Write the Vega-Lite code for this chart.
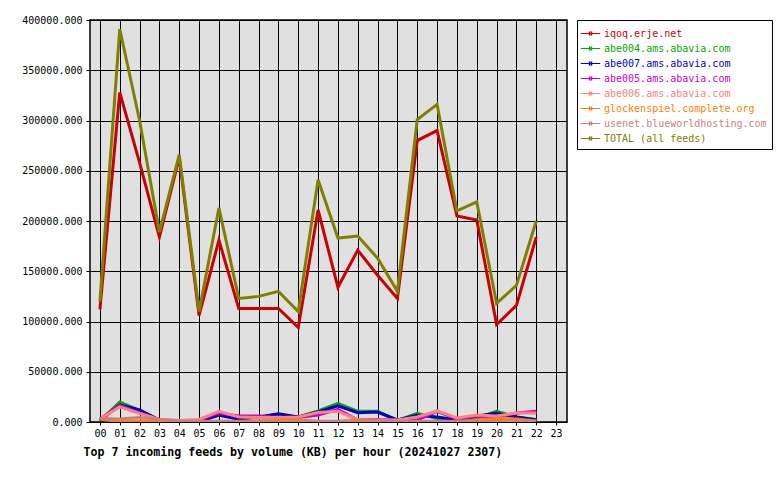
{
  "$schema": "https://vega.github.io/schema/vega-lite/v6.json",
  "width": 477,
  "height": 402,
  "autosize": {"type": "none"},
  "padding": {"left": 90, "top": 20, "right": 213, "bottom": 58},
  "background": "white",
  "config": {
    "font": "DejaVu Sans Mono",
    "view": {"fill": "#e0e0e0", "stroke": "black", "strokeWidth": 1.5},
    "axis": {
      "labelFont": "DejaVu Sans Mono",
      "labelFontSize": 10,
      "labelColor": "black",
      "grid": true,
      "gridColor": "black",
      "gridOpacity": 1,
      "gridWidth": 1,
      "domain": false,
      "tickColor": "black",
      "tickWidth": 1
    }
  },
  "data": {
    "values": [
      {"h":0,"feed":"iqoq.erje.net","kb":112000},{"h":1,"feed":"iqoq.erje.net","kb":328000},{"h":2,"feed":"iqoq.erje.net","kb":258000},{"h":3,"feed":"iqoq.erje.net","kb":184000},{"h":4,"feed":"iqoq.erje.net","kb":263000},{"h":5,"feed":"iqoq.erje.net","kb":106000},{"h":6,"feed":"iqoq.erje.net","kb":181000},{"h":7,"feed":"iqoq.erje.net","kb":113000},{"h":8,"feed":"iqoq.erje.net","kb":113000},{"h":9,"feed":"iqoq.erje.net","kb":113000},{"h":10,"feed":"iqoq.erje.net","kb":94000},{"h":11,"feed":"iqoq.erje.net","kb":211000},{"h":12,"feed":"iqoq.erje.net","kb":134000},{"h":13,"feed":"iqoq.erje.net","kb":171000},{"h":14,"feed":"iqoq.erje.net","kb":146000},{"h":15,"feed":"iqoq.erje.net","kb":123000},{"h":16,"feed":"iqoq.erje.net","kb":280000},{"h":17,"feed":"iqoq.erje.net","kb":290000},{"h":18,"feed":"iqoq.erje.net","kb":205000},{"h":19,"feed":"iqoq.erje.net","kb":201000},{"h":20,"feed":"iqoq.erje.net","kb":97000},{"h":21,"feed":"iqoq.erje.net","kb":116000},{"h":22,"feed":"iqoq.erje.net","kb":184000},
      {"h":0,"feed":"abe004.ams.abavia.com","kb":1000},{"h":1,"feed":"abe004.ams.abavia.com","kb":20000},{"h":2,"feed":"abe004.ams.abavia.com","kb":11500},{"h":3,"feed":"abe004.ams.abavia.com","kb":2000},{"h":4,"feed":"abe004.ams.abavia.com","kb":1500},{"h":5,"feed":"abe004.ams.abavia.com","kb":500},{"h":6,"feed":"abe004.ams.abavia.com","kb":7000},{"h":7,"feed":"abe004.ams.abavia.com","kb":3000},{"h":8,"feed":"abe004.ams.abavia.com","kb":5000},{"h":9,"feed":"abe004.ams.abavia.com","kb":7000},{"h":10,"feed":"abe004.ams.abavia.com","kb":5000},{"h":11,"feed":"abe004.ams.abavia.com","kb":11000},{"h":12,"feed":"abe004.ams.abavia.com","kb":18600},{"h":13,"feed":"abe004.ams.abavia.com","kb":10600},{"h":14,"feed":"abe004.ams.abavia.com","kb":10600},{"h":15,"feed":"abe004.ams.abavia.com","kb":1500},{"h":16,"feed":"abe004.ams.abavia.com","kb":8600},{"h":17,"feed":"abe004.ams.abavia.com","kb":3500},{"h":18,"feed":"abe004.ams.abavia.com","kb":1500},{"h":19,"feed":"abe004.ams.abavia.com","kb":4000},{"h":20,"feed":"abe004.ams.abavia.com","kb":10600},{"h":21,"feed":"abe004.ams.abavia.com","kb":5000},{"h":22,"feed":"abe004.ams.abavia.com","kb":2500},
      {"h":0,"feed":"abe007.ams.abavia.com","kb":1500},{"h":1,"feed":"abe007.ams.abavia.com","kb":17000},{"h":2,"feed":"abe007.ams.abavia.com","kb":12000},{"h":3,"feed":"abe007.ams.abavia.com","kb":2000},{"h":4,"feed":"abe007.ams.abavia.com","kb":500},{"h":5,"feed":"abe007.ams.abavia.com","kb":500},{"h":6,"feed":"abe007.ams.abavia.com","kb":7000},{"h":7,"feed":"abe007.ams.abavia.com","kb":2700},{"h":8,"feed":"abe007.ams.abavia.com","kb":5000},{"h":9,"feed":"abe007.ams.abavia.com","kb":8300},{"h":10,"feed":"abe007.ams.abavia.com","kb":5000},{"h":11,"feed":"abe007.ams.abavia.com","kb":10000},{"h":12,"feed":"abe007.ams.abavia.com","kb":16000},{"h":13,"feed":"abe007.ams.abavia.com","kb":9300},{"h":14,"feed":"abe007.ams.abavia.com","kb":9900},{"h":15,"feed":"abe007.ams.abavia.com","kb":2000},{"h":16,"feed":"abe007.ams.abavia.com","kb":6600},{"h":17,"feed":"abe007.ams.abavia.com","kb":5000},{"h":18,"feed":"abe007.ams.abavia.com","kb":2000},{"h":19,"feed":"abe007.ams.abavia.com","kb":6000},{"h":20,"feed":"abe007.ams.abavia.com","kb":8600},{"h":21,"feed":"abe007.ams.abavia.com","kb":5000},{"h":22,"feed":"abe007.ams.abavia.com","kb":2000},
      {"h":0,"feed":"abe005.ams.abavia.com","kb":3000},{"h":1,"feed":"abe005.ams.abavia.com","kb":16600},{"h":2,"feed":"abe005.ams.abavia.com","kb":9000},{"h":3,"feed":"abe005.ams.abavia.com","kb":2500},{"h":4,"feed":"abe005.ams.abavia.com","kb":500},{"h":5,"feed":"abe005.ams.abavia.com","kb":2000},{"h":6,"feed":"abe005.ams.abavia.com","kb":9000},{"h":7,"feed":"abe005.ams.abavia.com","kb":6000},{"h":8,"feed":"abe005.ams.abavia.com","kb":6000},{"h":9,"feed":"abe005.ams.abavia.com","kb":4500},{"h":10,"feed":"abe005.ams.abavia.com","kb":4500},{"h":11,"feed":"abe005.ams.abavia.com","kb":7000},{"h":12,"feed":"abe005.ams.abavia.com","kb":12600},{"h":13,"feed":"abe005.ams.abavia.com","kb":2000},{"h":14,"feed":"abe005.ams.abavia.com","kb":2500},{"h":15,"feed":"abe005.ams.abavia.com","kb":2000},{"h":16,"feed":"abe005.ams.abavia.com","kb":2000},{"h":17,"feed":"abe005.ams.abavia.com","kb":10600},{"h":18,"feed":"abe005.ams.abavia.com","kb":3000},{"h":19,"feed":"abe005.ams.abavia.com","kb":6000},{"h":20,"feed":"abe005.ams.abavia.com","kb":5000},{"h":21,"feed":"abe005.ams.abavia.com","kb":9000},{"h":22,"feed":"abe005.ams.abavia.com","kb":10600},
      {"h":0,"feed":"abe006.ams.abavia.com","kb":3000},{"h":1,"feed":"abe006.ams.abavia.com","kb":15000},{"h":2,"feed":"abe006.ams.abavia.com","kb":8500},{"h":3,"feed":"abe006.ams.abavia.com","kb":2500},{"h":4,"feed":"abe006.ams.abavia.com","kb":1500},{"h":5,"feed":"abe006.ams.abavia.com","kb":2500},{"h":6,"feed":"abe006.ams.abavia.com","kb":10600},{"h":7,"feed":"abe006.ams.abavia.com","kb":5000},{"h":8,"feed":"abe006.ams.abavia.com","kb":4500},{"h":9,"feed":"abe006.ams.abavia.com","kb":4500},{"h":10,"feed":"abe006.ams.abavia.com","kb":5000},{"h":11,"feed":"abe006.ams.abavia.com","kb":9500},{"h":12,"feed":"abe006.ams.abavia.com","kb":10600},{"h":13,"feed":"abe006.ams.abavia.com","kb":2000},{"h":14,"feed":"abe006.ams.abavia.com","kb":2000},{"h":15,"feed":"abe006.ams.abavia.com","kb":2000},{"h":16,"feed":"abe006.ams.abavia.com","kb":5000},{"h":17,"feed":"abe006.ams.abavia.com","kb":11000},{"h":18,"feed":"abe006.ams.abavia.com","kb":4000},{"h":19,"feed":"abe006.ams.abavia.com","kb":7000},{"h":20,"feed":"abe006.ams.abavia.com","kb":6000},{"h":21,"feed":"abe006.ams.abavia.com","kb":9000},{"h":22,"feed":"abe006.ams.abavia.com","kb":9000},
      {"h":0,"feed":"glockenspiel.complete.org","kb":3000},{"h":1,"feed":"glockenspiel.complete.org","kb":500},{"h":2,"feed":"glockenspiel.complete.org","kb":1000},{"h":3,"feed":"glockenspiel.complete.org","kb":500},{"h":4,"feed":"glockenspiel.complete.org","kb":0},{"h":5,"feed":"glockenspiel.complete.org","kb":0},{"h":6,"feed":"glockenspiel.complete.org","kb":500},{"h":7,"feed":"glockenspiel.complete.org","kb":500},{"h":8,"feed":"glockenspiel.complete.org","kb":1000},{"h":9,"feed":"glockenspiel.complete.org","kb":2200},{"h":10,"feed":"glockenspiel.complete.org","kb":2200},{"h":11,"feed":"glockenspiel.complete.org","kb":500},{"h":12,"feed":"glockenspiel.complete.org","kb":500},{"h":13,"feed":"glockenspiel.complete.org","kb":2000},{"h":14,"feed":"glockenspiel.complete.org","kb":1000},{"h":15,"feed":"glockenspiel.complete.org","kb":500},{"h":16,"feed":"glockenspiel.complete.org","kb":500},{"h":17,"feed":"glockenspiel.complete.org","kb":500},{"h":18,"feed":"glockenspiel.complete.org","kb":500},{"h":19,"feed":"glockenspiel.complete.org","kb":2000},{"h":20,"feed":"glockenspiel.complete.org","kb":3500},{"h":21,"feed":"glockenspiel.complete.org","kb":3000},{"h":22,"feed":"glockenspiel.complete.org","kb":1000},
      {"h":0,"feed":"usenet.blueworldhosting.com","kb":3500},{"h":1,"feed":"usenet.blueworldhosting.com","kb":3000},{"h":2,"feed":"usenet.blueworldhosting.com","kb":4500},{"h":3,"feed":"usenet.blueworldhosting.com","kb":2500},{"h":4,"feed":"usenet.blueworldhosting.com","kb":800},{"h":5,"feed":"usenet.blueworldhosting.com","kb":800},{"h":6,"feed":"usenet.blueworldhosting.com","kb":800},{"h":7,"feed":"usenet.blueworldhosting.com","kb":800},{"h":8,"feed":"usenet.blueworldhosting.com","kb":800},{"h":9,"feed":"usenet.blueworldhosting.com","kb":800},{"h":10,"feed":"usenet.blueworldhosting.com","kb":800},{"h":11,"feed":"usenet.blueworldhosting.com","kb":800},{"h":12,"feed":"usenet.blueworldhosting.com","kb":800},{"h":13,"feed":"usenet.blueworldhosting.com","kb":800},{"h":14,"feed":"usenet.blueworldhosting.com","kb":800},{"h":15,"feed":"usenet.blueworldhosting.com","kb":800},{"h":16,"feed":"usenet.blueworldhosting.com","kb":800},{"h":17,"feed":"usenet.blueworldhosting.com","kb":800},{"h":18,"feed":"usenet.blueworldhosting.com","kb":800},{"h":19,"feed":"usenet.blueworldhosting.com","kb":800},{"h":20,"feed":"usenet.blueworldhosting.com","kb":800},{"h":21,"feed":"usenet.blueworldhosting.com","kb":800},{"h":22,"feed":"usenet.blueworldhosting.com","kb":800},
      {"h":0,"feed":"TOTAL (all feeds)","kb":120000},{"h":1,"feed":"TOTAL (all feeds)","kb":391000},{"h":2,"feed":"TOTAL (all feeds)","kb":300000},{"h":3,"feed":"TOTAL (all feeds)","kb":189000},{"h":4,"feed":"TOTAL (all feeds)","kb":266000},{"h":5,"feed":"TOTAL (all feeds)","kb":110000},{"h":6,"feed":"TOTAL (all feeds)","kb":213000},{"h":7,"feed":"TOTAL (all feeds)","kb":123000},{"h":8,"feed":"TOTAL (all feeds)","kb":125000},{"h":9,"feed":"TOTAL (all feeds)","kb":130000},{"h":10,"feed":"TOTAL (all feeds)","kb":110000},{"h":11,"feed":"TOTAL (all feeds)","kb":241000},{"h":12,"feed":"TOTAL (all feeds)","kb":183000},{"h":13,"feed":"TOTAL (all feeds)","kb":185000},{"h":14,"feed":"TOTAL (all feeds)","kb":163000},{"h":15,"feed":"TOTAL (all feeds)","kb":130000},{"h":16,"feed":"TOTAL (all feeds)","kb":301000},{"h":17,"feed":"TOTAL (all feeds)","kb":316000},{"h":18,"feed":"TOTAL (all feeds)","kb":210000},{"h":19,"feed":"TOTAL (all feeds)","kb":219000},{"h":20,"feed":"TOTAL (all feeds)","kb":118000},{"h":21,"feed":"TOTAL (all feeds)","kb":136000},{"h":22,"feed":"TOTAL (all feeds)","kb":200000}
    ]
  },
  "mark": {"type": "line", "strokeWidth": 3, "strokeJoin": "miter", "clip": true},
  "encoding": {
    "x": {
      "field": "h",
      "type": "quantitative",
      "scale": {"domain": [-0.5, 23.55], "nice": false, "zero": false},
      "axis": {
        "values": [0,1,2,3,4,5,6,7,8,9,10,11,12,13,14,15,16,17,18,19,20,21,22,23],
        "format": "02d",
        "tickSize": 3,
        "labelPadding": 3,
        "labelFlush": false,
        "labelOverlap": false,
        "title": "Top 7 incoming feeds by volume (KB) per hour (20241027 2307)",
        "titleFont": "DejaVu Sans Mono",
        "titleFontSize": 11.6,
        "titleFontWeight": "bold",
        "titleColor": "black",
        "titleAnchor": "start",
        "titleAlign": "left",
        "titleBaseline": "middle",
        "titleX": -7,
        "titleY": 30
      }
    },
    "y": {
      "field": "kb",
      "type": "quantitative",
      "scale": {"domain": [0, 400000], "nice": false},
      "axis": {
        "values": [0,50000,100000,150000,200000,250000,300000,350000,400000],
        "format": ".3f",
        "tickSize": 4,
        "labelPadding": 4,
        "title": null
      }
    },
    "color": {
      "field": "feed",
      "type": "nominal",
      "sort": null,
      "scale": {
        "domain": ["iqoq.erje.net","abe004.ams.abavia.com","abe007.ams.abavia.com","abe005.ams.abavia.com","abe006.ams.abavia.com","glockenspiel.complete.org","usenet.blueworldhosting.com","TOTAL (all feeds)"],
        "range": ["#cc0000","#00aa00","#0000cc","#cc00cc","#ff8080","#ff8000","#cc7f7f","#808000"]
      },
      "legend": {
        "title": null,
        "orient": "none",
        "legendX": 487,
        "legendY": 0,
        "direction": "vertical",
        "strokeColor": "black",
        "fillColor": "white",
        "padding": 5,
        "labelFont": "DejaVu Sans Mono",
        "labelFontSize": 10,
        "labelOffset": 5,
        "labelLimit": 300,
        "rowPadding": 1,
        "symbolSize": 225,
        "symbolType": "M-1.3,0H1.3M-0.15,-0.2H0.15V0.2H-0.15Z",
        "symbolStrokeWidth": 1.2,
        "symbolFillColor": "transparent",
        "encode": {
          "labels": {"update": {"fill": {"scale": "color", "field": "value"}}}
        }
      }
    }
  }
}
